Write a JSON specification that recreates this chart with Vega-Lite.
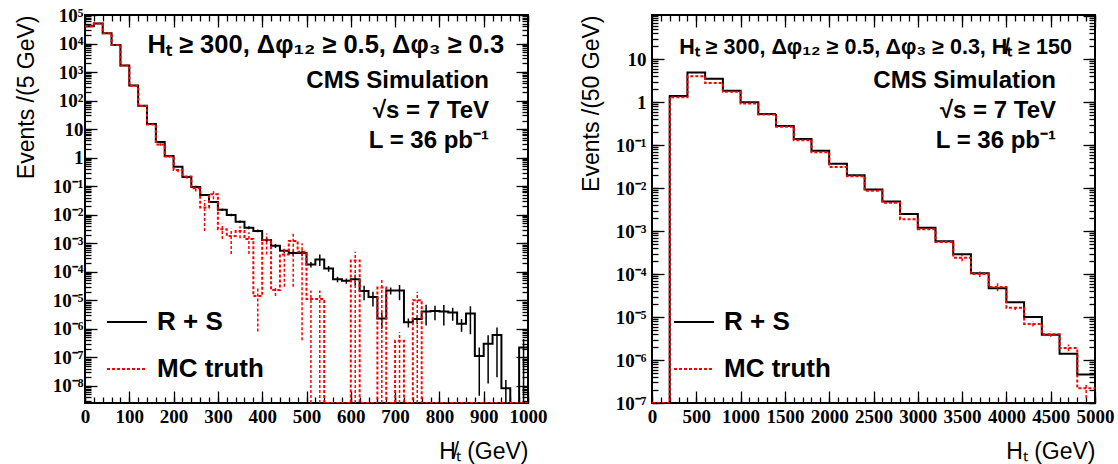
{
  "$schema": "https://vega.github.io/schema/vega-lite/v6.json",
  "background": "white",
  "padding": {"left": 14, "right": 0, "top": 5, "bottom": 0},
  "spacing": 31,
  "config": {
    "view": {"stroke": "black", "strokeWidth": 2},
    "axis": {"grid": false, "domain": false, "ticks": true, "tickColor": "black", "tickWidth": 1.3, "labelFlush": false,
      "labelFont": "Liberation Serif", "labelFontWeight": "bold", "labelFontSize": 19, "labelColor": "black",
      "titleFont": "Liberation Sans", "titleFontWeight": "normal", "titleFontSize": 23, "titleColor": "black"},
    "text": {"font": "Liberation Sans", "fontWeight": "bold", "color": "black"}
  },
  "resolve": {"legend": {"color": "independent", "strokeDash": "independent"}},
  "datasets": {
    "left": [
      {"s":"R + S","x":0,"xc":10,"v":40000},
      {"s":"R + S","x":20,"xc":30,"v":50000},
      {"s":"R + S","x":40,"xc":50,"v":23000},
      {"s":"R + S","x":60,"xc":70,"v":8900},
      {"s":"R + S","x":80,"xc":90,"v":1700},
      {"s":"R + S","x":100,"xc":110,"v":340},
      {"s":"R + S","x":120,"xc":130,"v":66},
      {"s":"R + S","x":140,"xc":150,"v":15},
      {"s":"R + S","x":160,"xc":170,"v":3.5},
      {"s":"R + S","x":180,"xc":190,"v":1.15},
      {"s":"R + S","x":200,"xc":210,"v":0.48},
      {"s":"R + S","x":220,"xc":230,"v":0.21},
      {"s":"R + S","x":240,"xc":250,"v":0.094},
      {"s":"R + S","x":260,"xc":270,"v":0.049},
      {"s":"R + S","x":280,"xc":290,"v":0.028},
      {"s":"R + S","x":300,"xc":310,"v":0.015,"lo":0.0135,"hi":0.0165},
      {"s":"R + S","x":320,"xc":330,"v":0.0098,"lo":0.0088,"hi":0.0108},
      {"s":"R + S","x":340,"xc":350,"v":0.0057,"lo":0.0051,"hi":0.0063},
      {"s":"R + S","x":360,"xc":370,"v":0.0035,"lo":0.0031,"hi":0.0039},
      {"s":"R + S","x":380,"xc":390,"v":0.0027,"lo":0.0024,"hi":0.0030},
      {"s":"R + S","x":400,"xc":410,"v":0.0013,"lo":0.0011,"hi":0.0015},
      {"s":"R + S","x":420,"xc":430,"v":8.1e-4,"lo":6.8e-4,"hi":9.4e-4},
      {"s":"R + S","x":440,"xc":450,"v":5.4e-4,"lo":4.5e-4,"hi":6.3e-4},
      {"s":"R + S","x":460,"xc":470,"v":4.5e-4,"lo":3.6e-4,"hi":5.4e-4},
      {"s":"R + S","x":480,"xc":490,"v":4.5e-4,"lo":3.5e-4,"hi":5.5e-4},
      {"s":"R + S","x":500,"xc":510,"v":1.8e-4,"lo":1.4e-4,"hi":2.2e-4},
      {"s":"R + S","x":520,"xc":530,"v":2.7e-4,"lo":1.6e-4,"hi":4.0e-4},
      {"s":"R + S","x":540,"xc":550,"v":1.3e-4,"lo":1.0e-4,"hi":1.6e-4},
      {"s":"R + S","x":560,"xc":570,"v":5.5e-5,"lo":4.3e-5,"hi":6.7e-5},
      {"s":"R + S","x":580,"xc":590,"v":4.8e-5,"lo":3.8e-5,"hi":5.8e-5},
      {"s":"R + S","x":600,"xc":610,"v":5.5e-5,"lo":3.2e-5,"hi":7.8e-5},
      {"s":"R + S","x":620,"xc":630,"v":2.1e-5,"lo":1.0e-5,"hi":3.2e-5},
      {"s":"R + S","x":640,"xc":650,"v":1.3e-5,"lo":6e-6,"hi":2.0e-5},
      {"s":"R + S","x":660,"xc":670,"v":2.3e-6,"lo":1.0e-6,"hi":3.6e-6},
      {"s":"R + S","x":680,"xc":690,"v":2.2e-5,"lo":1.6e-5,"hi":2.8e-5},
      {"s":"R + S","x":700,"xc":710,"v":2.2e-5,"lo":1.0e-5,"hi":3.4e-5},
      {"s":"R + S","x":720,"xc":730,"v":1.7e-6,"lo":1.1e-6,"hi":2.3e-6},
      {"s":"R + S","x":740,"xc":750,"v":2.2e-6,"lo":1.45e-6,"hi":2.9e-6},
      {"s":"R + S","x":760,"xc":770,"v":4.0e-6,"lo":1.3e-6,"hi":7.0e-6},
      {"s":"R + S","x":780,"xc":790,"v":4.2e-6,"lo":2.0e-6,"hi":6.4e-6},
      {"s":"R + S","x":800,"xc":810,"v":4.0e-6,"lo":1.3e-6,"hi":6.8e-6},
      {"s":"R + S","x":820,"xc":830,"v":3.7e-6,"lo":1.9e-6,"hi":5.5e-6},
      {"s":"R + S","x":840,"xc":850,"v":1.5e-6,"lo":7.8e-7,"hi":2.2e-6},
      {"s":"R + S","x":860,"xc":870,"v":3.4e-6,"lo":6.4e-7,"hi":6.2e-6},
      {"s":"R + S","x":880,"xc":890,"v":1.1e-7,"lo":4.5e-9,"hi":2.2e-7},
      {"s":"R + S","x":900,"xc":910,"v":3.0e-7,"lo":1.2e-8,"hi":5.9e-7},
      {"s":"R + S","x":920,"xc":930,"v":6.0e-7,"lo":2e-8,"hi":1.1e-6},
      {"s":"R + S","x":940,"xc":950,"v":8.3e-9,"lo":1e-12,"hi":1.6e-8},
      {"s":"R + S","x":960,"xc":970,"v":1e-12},
      {"s":"R + S","x":980,"xc":990,"v":2.2e-7,"lo":1e-12,"hi":4.4e-7},
      {"s":"R + S","x":1000,"v":2.2e-7},
      {"s":"MC truth","x":0,"xc":10,"v":40000},
      {"s":"MC truth","x":20,"xc":30,"v":50000},
      {"s":"MC truth","x":40,"xc":50,"v":23000},
      {"s":"MC truth","x":60,"xc":70,"v":8900},
      {"s":"MC truth","x":80,"xc":90,"v":1700},
      {"s":"MC truth","x":100,"xc":110,"v":330},
      {"s":"MC truth","x":120,"xc":130,"v":64},
      {"s":"MC truth","x":140,"xc":150,"v":14.5},
      {"s":"MC truth","x":160,"xc":170,"v":2.9,"lo":2.6,"hi":3.2},
      {"s":"MC truth","x":180,"xc":190,"v":1.1,"lo":1.0,"hi":1.2},
      {"s":"MC truth","x":200,"xc":210,"v":0.37,"lo":0.31,"hi":0.43},
      {"s":"MC truth","x":220,"xc":230,"v":0.22,"lo":0.18,"hi":0.26},
      {"s":"MC truth","x":240,"xc":250,"v":0.085,"lo":0.065,"hi":0.105},
      {"s":"MC truth","x":260,"xc":270,"v":0.018,"lo":0.0027,"hi":0.033},
      {"s":"MC truth","x":280,"xc":290,"v":0.052,"lo":0.035,"hi":0.07},
      {"s":"MC truth","x":300,"xc":310,"v":0.0031,"lo":0.0014,"hi":0.0048},
      {"s":"MC truth","x":320,"xc":330,"v":0.0018,"lo":4.2e-4,"hi":0.0032},
      {"s":"MC truth","x":340,"xc":350,"v":0.0027,"lo":0.0015,"hi":0.0039},
      {"s":"MC truth","x":360,"xc":370,"v":0.0014,"lo":4.2e-4,"hi":0.0024},
      {"s":"MC truth","x":380,"xc":390,"v":1.4e-5,"lo":8e-7,"hi":2.7e-5},
      {"s":"MC truth","x":400,"xc":410,"v":0.0013,"lo":4e-4,"hi":0.0022},
      {"s":"MC truth","x":420,"xc":430,"v":2.3e-5,"lo":1.4e-5,"hi":3.2e-5},
      {"s":"MC truth","x":440,"xc":450,"v":4e-4,"lo":3e-5,"hi":7.7e-4},
      {"s":"MC truth","x":460,"xc":470,"v":1.2e-3,"lo":3e-5,"hi":2.3e-3},
      {"s":"MC truth","x":480,"xc":490,"v":5e-4,"lo":4e-7,"hi":1.0e-3},
      {"s":"MC truth","x":500,"xc":510,"v":1.1e-5,"lo":1e-12,"hi":2.2e-5},
      {"s":"MC truth","x":520,"xc":530,"v":1.1e-5,"lo":1e-12,"hi":2.2e-5},
      {"s":"MC truth","x":540,"xc":550,"v":1e-12},
      {"s":"MC truth","x":560,"xc":570,"v":1e-12},
      {"s":"MC truth","x":580,"xc":590,"v":1e-12},
      {"s":"MC truth","x":600,"xc":610,"v":2.5e-4,"lo":1e-12,"hi":5e-4},
      {"s":"MC truth","x":620,"xc":630,"v":1e-12},
      {"s":"MC truth","x":640,"xc":650,"v":1e-12},
      {"s":"MC truth","x":660,"xc":670,"v":2.8e-5,"lo":1e-12,"hi":5.6e-5},
      {"s":"MC truth","x":680,"xc":690,"v":1e-12},
      {"s":"MC truth","x":700,"xc":710,"v":3.8e-7,"lo":1e-12,"hi":7.6e-7},
      {"s":"MC truth","x":720,"xc":730,"v":1e-12},
      {"s":"MC truth","x":740,"xc":750,"v":1.0e-5,"lo":1e-12,"hi":2.0e-5},
      {"s":"MC truth","x":760,"xc":770,"v":1e-12},
      {"s":"MC truth","x":780,"xc":790,"v":1e-12},
      {"s":"MC truth","x":800,"xc":810,"v":1e-12},
      {"s":"MC truth","x":820,"xc":830,"v":1e-12},
      {"s":"MC truth","x":840,"xc":850,"v":1e-12},
      {"s":"MC truth","x":860,"xc":870,"v":1e-12},
      {"s":"MC truth","x":880,"xc":890,"v":1e-12},
      {"s":"MC truth","x":900,"xc":910,"v":1e-12},
      {"s":"MC truth","x":920,"xc":930,"v":1e-12},
      {"s":"MC truth","x":940,"xc":950,"v":1e-12},
      {"s":"MC truth","x":960,"xc":970,"v":1e-12},
      {"s":"MC truth","x":980,"xc":990,"v":1e-12},
      {"s":"MC truth","x":1000,"v":1e-12}
    ],
    "right": [
      {"s":"R + S","x":0,"xc":100,"v":1e-12},
      {"s":"R + S","x":200,"xc":300,"v":1.4},
      {"s":"R + S","x":400,"xc":500,"v":4.9},
      {"s":"R + S","x":600,"xc":700,"v":3.5},
      {"s":"R + S","x":800,"xc":900,"v":1.84},
      {"s":"R + S","x":1000,"xc":1100,"v":1.0},
      {"s":"R + S","x":1200,"xc":1300,"v":0.53},
      {"s":"R + S","x":1400,"xc":1500,"v":0.28},
      {"s":"R + S","x":1600,"xc":1700,"v":0.14},
      {"s":"R + S","x":1800,"xc":1900,"v":0.074},
      {"s":"R + S","x":2000,"xc":2100,"v":0.037},
      {"s":"R + S","x":2200,"xc":2300,"v":0.020},
      {"s":"R + S","x":2400,"xc":2500,"v":0.0093},
      {"s":"R + S","x":2600,"xc":2700,"v":0.0049},
      {"s":"R + S","x":2800,"xc":2900,"v":0.0025},
      {"s":"R + S","x":3000,"xc":3100,"v":0.0012},
      {"s":"R + S","x":3200,"xc":3300,"v":5.8e-4},
      {"s":"R + S","x":3400,"xc":3500,"v":2.9e-4},
      {"s":"R + S","x":3600,"xc":3700,"v":1.04e-4},
      {"s":"R + S","x":3800,"xc":3900,"v":4.7e-5},
      {"s":"R + S","x":4000,"xc":4100,"v":2.2e-5},
      {"s":"R + S","x":4200,"xc":4300,"v":1.0e-5},
      {"s":"R + S","x":4400,"xc":4500,"v":3.9e-6},
      {"s":"R + S","x":4600,"xc":4700,"v":1.4e-6},
      {"s":"R + S","x":4800,"xc":4900,"v":4.6e-7},
      {"s":"R + S","x":5000,"v":4.6e-7},
      {"s":"MC truth","x":0,"xc":100,"v":1e-12},
      {"s":"MC truth","x":200,"xc":300,"v":1.3},
      {"s":"MC truth","x":400,"xc":500,"v":4.0},
      {"s":"MC truth","x":600,"xc":700,"v":2.8},
      {"s":"MC truth","x":800,"xc":900,"v":1.75},
      {"s":"MC truth","x":1000,"xc":1100,"v":0.93},
      {"s":"MC truth","x":1200,"xc":1300,"v":0.52},
      {"s":"MC truth","x":1400,"xc":1500,"v":0.27},
      {"s":"MC truth","x":1600,"xc":1700,"v":0.13},
      {"s":"MC truth","x":1800,"xc":1900,"v":0.068},
      {"s":"MC truth","x":2000,"xc":2100,"v":0.031},
      {"s":"MC truth","x":2200,"xc":2300,"v":0.019},
      {"s":"MC truth","x":2400,"xc":2500,"v":0.0087},
      {"s":"MC truth","x":2600,"xc":2700,"v":0.0046},
      {"s":"MC truth","x":2800,"xc":2900,"v":0.0019},
      {"s":"MC truth","x":3000,"xc":3100,"v":0.0011},
      {"s":"MC truth","x":3200,"xc":3300,"v":5.6e-4},
      {"s":"MC truth","x":3400,"xc":3500,"v":2.4e-4,"lo":2.0e-4,"hi":2.8e-4},
      {"s":"MC truth","x":3600,"xc":3700,"v":1.0e-4,"lo":8.5e-5,"hi":1.15e-4},
      {"s":"MC truth","x":3800,"xc":3900,"v":5.0e-5,"lo":4.0e-5,"hi":6.5e-5},
      {"s":"MC truth","x":4000,"xc":4100,"v":1.65e-5,"lo":1.45e-5,"hi":1.9e-5},
      {"s":"MC truth","x":4200,"xc":4300,"v":6.9e-6,"lo":6.0e-6,"hi":8.0e-6},
      {"s":"MC truth","x":4400,"xc":4500,"v":4.0e-6,"lo":3.5e-6,"hi":4.6e-6},
      {"s":"MC truth","x":4600,"xc":4700,"v":1.9e-6,"lo":1.6e-6,"hi":2.3e-6},
      {"s":"MC truth","x":4800,"xc":4900,"v":2.2e-7,"lo":1.3e-7,"hi":2.9e-7},
      {"s":"MC truth","x":5000,"v":2.2e-7}
    ]
  },
  "hconcat": [
    {
      "width": 443,
      "height": 388,
      "data": {"name": "left"},
      "resolve": {"axis": {"x": "independent", "y": "independent"}},
      "layer": [
        {
          "mark": {"type": "line", "interpolate": "step-after", "strokeWidth": 2, "clip": true},
          "encoding": {
            "x": {"field": "x", "type": "quantitative", "scale": {"domain": [0, 1000], "nice": false, "zero": false},
              "axis": {"orient": "bottom", "values": [0,100,200,300,400,500,600,700,800,900,1000], "format": "d", "labelOverlap": false, "labelFlush": false, "tickSize": -12, "labelPadding": 16, "labelAngle": 0, "title": "H̸ₜ (GeV)", "titleAnchor": "end", "titlePadding": 14}},
            "y": {"field": "v", "type": "quantitative", "scale": {"type": "log", "domain": [2.5e-9, 100000], "nice": false, "clamp": true},
              "axis": {"orient": "left", "values": [1e-8,1e-7,1e-6,1e-5,1e-4,1e-3,0.01,0.1,1,10,100,1000,10000,100000], "tickSize": -12, "labelPadding": 14, "labelOverlap": false,
                "labelExpr": "round(log(datum.value)/LN10) == 0 ? '1' : round(log(datum.value)/LN10) == 1 ? '10' : '10' + (datum.value < 1 ? '⁻' : '') + substring('⁰¹²³⁴⁵⁶⁷⁸⁹', abs(round(log(datum.value)/LN10)), abs(round(log(datum.value)/LN10)) + 1)",
                "title": "Events /(5 GeV)", "titleAnchor": "end", "titlePadding": 14}},
            "color": {"field": "s", "type": "nominal", "scale": {"domain": ["R + S", "MC truth"], "range": ["#000000", "#ff0000"]},
              "legend": {"orient": "none", "legendX": 21, "legendY": 286, "title": null, "symbolType": "stroke", "symbolSize": 1600, "symbolStrokeWidth": 2, "labelFont": "Liberation Sans", "labelFontWeight": "bold", "labelFontSize": 26, "labelColor": "black", "labelOffset": 9, "rowPadding": 13, "padding": 0, "labelLimit": 300}},
            "strokeDash": {"field": "s", "type": "nominal", "scale": {"domain": ["R + S", "MC truth"], "range": [[1, 0], [3, 2]]},
              "legend": {"orient": "none", "legendX": 21, "legendY": 286, "title": null, "symbolType": "stroke", "symbolSize": 1600, "symbolStrokeWidth": 2, "labelFont": "Liberation Sans", "labelFontWeight": "bold", "labelFontSize": 26, "labelColor": "black", "labelOffset": 9, "rowPadding": 13, "padding": 0, "labelLimit": 300}}
          }
        },
        {
          "mark": {"type": "rule", "strokeWidth": 1.5, "clip": true},
          "encoding": {
            "x": {"field": "xc", "type": "quantitative", "scale": {"domain": [0, 1000], "nice": false, "zero": false},
              "axis": {"orient": "bottom", "tickCount": 50, "labels": false, "tickSize": -6, "title": null}},
            "y": {"field": "lo", "type": "quantitative", "scale": {"type": "log", "domain": [2.5e-9, 100000], "nice": false, "clamp": true},
              "axis": {"orient": "left", "tickCount": 30, "labels": false, "tickSize": -6, "title": null}},
            "y2": {"field": "hi"},
            "color": {"field": "s", "type": "nominal", "scale": {"domain": ["R + S", "MC truth"], "range": ["#000000", "#ff0000"]}, "legend": null},
            "strokeDash": {"field": "s", "type": "nominal", "scale": {"domain": ["R + S", "MC truth"], "range": [[1, 0], [3, 2]]}, "legend": null}
          }
        },
        {
          "data": {"values": [{}]},
          "mark": {"type": "text", "align": "right", "baseline": "alphabetic", "fontSize": 25.5, "text": "Hₜ ≥ 300, Δφ₁₂ ≥ 0.5, Δφ₃ ≥ 0.3"},
          "encoding": {
            "x": {"datum": 946, "type": "quantitative", "scale": {"domain": [0, 1000], "nice": false, "zero": false},
              "axis": {"orient": "top", "values": [0,100,200,300,400,500,600,700,800,900,1000], "tickSize": -12, "labels": false, "title": null}},
            "y": {"datum": 4660, "type": "quantitative", "scale": {"type": "log", "domain": [2.5e-9, 100000], "nice": false, "clamp": true},
              "axis": {"orient": "right", "values": [1e-8,1e-7,1e-6,1e-5,1e-4,1e-3,0.01,0.1,1,10,100,1000,10000,100000], "tickSize": -12, "labels": false, "title": null}}
          }
        },
        {
          "data": {"values": [{}]},
          "mark": {"type": "text", "align": "right", "baseline": "alphabetic", "fontSize": 24, "lineHeight": 30, "text": ["CMS Simulation", "√s = 7 TeV", "L = 36 pb⁻¹"]},
          "encoding": {
            "x": {"datum": 912, "type": "quantitative", "scale": {"domain": [0, 1000], "nice": false, "zero": false},
              "axis": {"orient": "top", "tickCount": 50, "labels": false, "tickSize": -6, "title": null}},
            "y": {"datum": 266, "type": "quantitative", "scale": {"type": "log", "domain": [2.5e-9, 100000], "nice": false, "clamp": true},
              "axis": {"orient": "right", "tickCount": 30, "labels": false, "tickSize": -6, "title": null}}
          }
        }
      ]
    },
    {
      "width": 443,
      "height": 388,
      "data": {"name": "right"},
      "resolve": {"axis": {"x": "independent", "y": "independent"}},
      "layer": [
        {
          "mark": {"type": "line", "interpolate": "step-after", "strokeWidth": 2, "clip": true},
          "encoding": {
            "x": {"field": "x", "type": "quantitative", "scale": {"domain": [0, 5000], "nice": false, "zero": false},
              "axis": {"orient": "bottom", "values": [0,500,1000,1500,2000,2500,3000,3500,4000,4500,5000], "format": "d", "labelOverlap": false, "labelFlush": false, "tickSize": -12, "labelPadding": 16, "labelAngle": 0, "title": "Hₜ (GeV)", "titleAnchor": "end", "titlePadding": 14}},
            "y": {"field": "v", "type": "quantitative", "scale": {"type": "log", "domain": [1e-7, 107], "nice": false, "clamp": true},
              "axis": {"orient": "left", "values": [1e-7,1e-6,1e-5,1e-4,1e-3,0.01,0.1,1,10], "tickSize": -12, "labelPadding": 18, "labelOverlap": false,
                "labelExpr": "round(log(datum.value)/LN10) == 0 ? '1' : round(log(datum.value)/LN10) == 1 ? '10' : '10' + (datum.value < 1 ? '⁻' : '') + substring('⁰¹²³⁴⁵⁶⁷⁸⁹', abs(round(log(datum.value)/LN10)), abs(round(log(datum.value)/LN10)) + 1)",
                "title": "Events /(50 GeV)", "titleAnchor": "end", "titlePadding": 12}},
            "color": {"field": "s", "type": "nominal", "scale": {"domain": ["R + S", "MC truth"], "range": ["#000000", "#ff0000"]},
              "legend": {"orient": "none", "legendX": 21, "legendY": 286, "title": null, "symbolType": "stroke", "symbolSize": 1600, "symbolStrokeWidth": 2, "labelFont": "Liberation Sans", "labelFontWeight": "bold", "labelFontSize": 26, "labelColor": "black", "labelOffset": 9, "rowPadding": 13, "padding": 0, "labelLimit": 300}},
            "strokeDash": {"field": "s", "type": "nominal", "scale": {"domain": ["R + S", "MC truth"], "range": [[1, 0], [3, 2]]},
              "legend": {"orient": "none", "legendX": 21, "legendY": 286, "title": null, "symbolType": "stroke", "symbolSize": 1600, "symbolStrokeWidth": 2, "labelFont": "Liberation Sans", "labelFontWeight": "bold", "labelFontSize": 26, "labelColor": "black", "labelOffset": 9, "rowPadding": 13, "padding": 0, "labelLimit": 300}}
          }
        },
        {
          "mark": {"type": "rule", "strokeWidth": 1.5, "clip": true},
          "encoding": {
            "x": {"field": "xc", "type": "quantitative", "scale": {"domain": [0, 5000], "nice": false, "zero": false},
              "axis": {"orient": "bottom", "tickCount": 50, "labels": false, "tickSize": -6, "title": null}},
            "y": {"field": "lo", "type": "quantitative", "scale": {"type": "log", "domain": [1e-7, 107], "nice": false, "clamp": true},
              "axis": {"orient": "left", "tickCount": 30, "labels": false, "tickSize": -6, "title": null}},
            "y2": {"field": "hi"},
            "color": {"field": "s", "type": "nominal", "scale": {"domain": ["R + S", "MC truth"], "range": ["#000000", "#ff0000"]}, "legend": null},
            "strokeDash": {"field": "s", "type": "nominal", "scale": {"domain": ["R + S", "MC truth"], "range": [[1, 0], [3, 2]]}, "legend": null}
          }
        },
        {
          "data": {"values": [{}]},
          "mark": {"type": "text", "align": "right", "baseline": "alphabetic", "fontSize": 21.5, "text": "Hₜ ≥ 300, Δφ₁₂ ≥ 0.5, Δφ₃ ≥ 0.3, H̸ₜ ≥ 150"},
          "encoding": {
            "x": {"datum": 4740, "type": "quantitative", "scale": {"domain": [0, 5000], "nice": false, "zero": false},
              "axis": {"orient": "top", "values": [0,500,1000,1500,2000,2500,3000,3500,4000,4500,5000], "tickSize": -12, "labels": false, "title": null}},
            "y": {"datum": 13.1, "type": "quantitative", "scale": {"type": "log", "domain": [1e-7, 107], "nice": false, "clamp": true},
              "axis": {"orient": "right", "values": [1e-7,1e-6,1e-5,1e-4,1e-3,0.01,0.1,1,10,100], "tickSize": -12, "labels": false, "title": null}}
          }
        },
        {
          "data": {"values": [{}]},
          "mark": {"type": "text", "align": "right", "baseline": "alphabetic", "fontSize": 24, "lineHeight": 30, "text": ["CMS Simulation", "√s = 7 TeV", "L = 36 pb⁻¹"]},
          "encoding": {
            "x": {"datum": 4560, "type": "quantitative", "scale": {"domain": [0, 5000], "nice": false, "zero": false},
              "axis": {"orient": "top", "tickCount": 50, "labels": false, "tickSize": -6, "title": null}},
            "y": {"datum": 2.09, "type": "quantitative", "scale": {"type": "log", "domain": [1e-7, 107], "nice": false, "clamp": true},
              "axis": {"orient": "right", "tickCount": 30, "labels": false, "tickSize": -6, "title": null}}
          }
        }
      ]
    }
  ]
}
